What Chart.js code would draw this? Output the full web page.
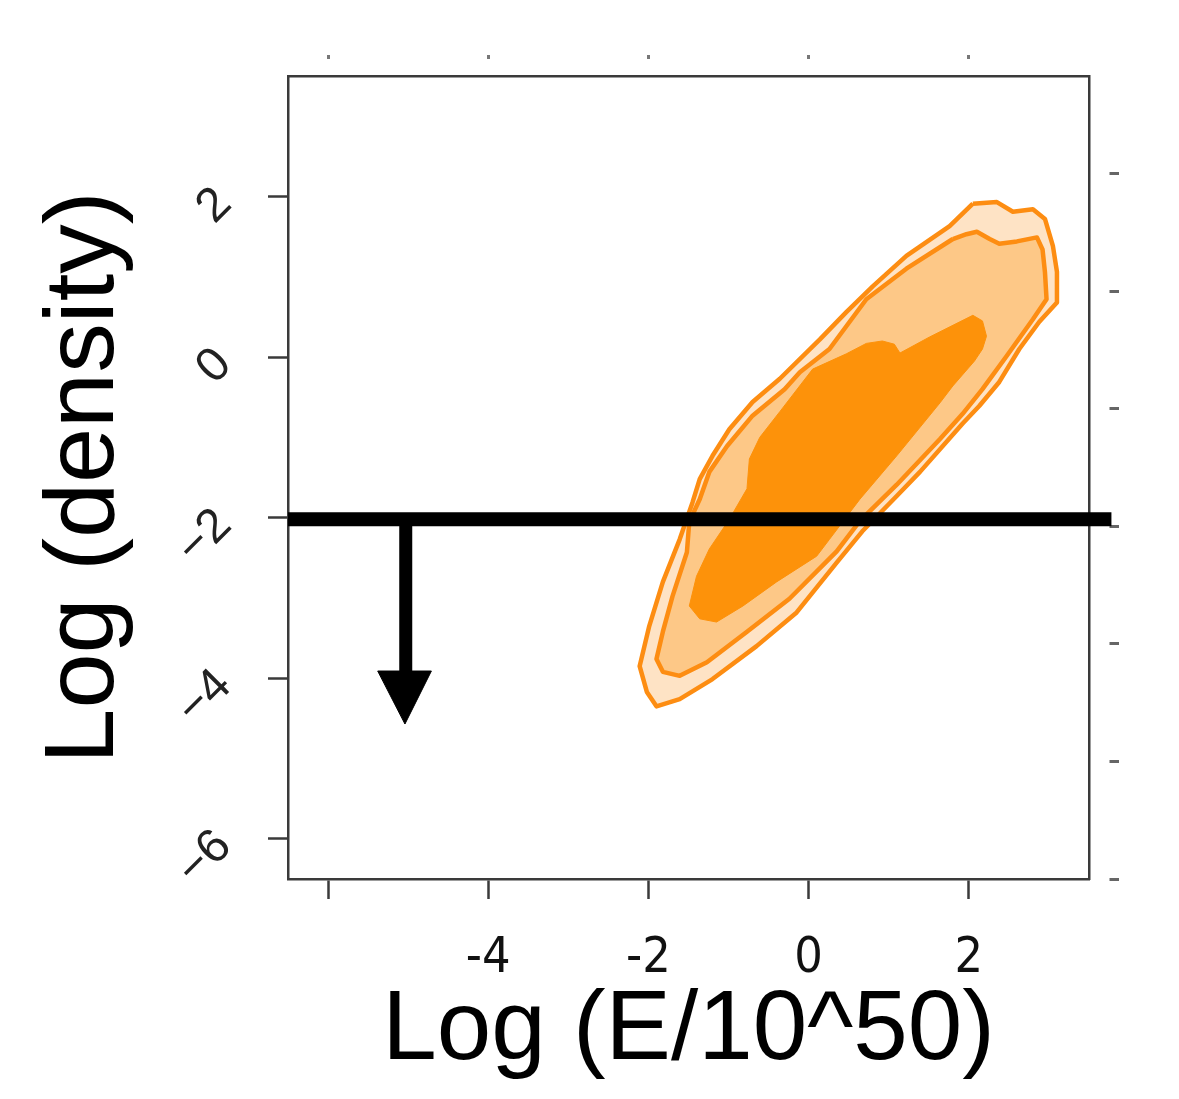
<!DOCTYPE html>
<html>
<head>
<meta charset="utf-8">
<script src="https://cdn.jsdelivr.net/npm/chart.js@4/dist/chart.umd.min.js"></script>
<style>
  html, body { margin: 0; background: #fff; }
  canvas { display: block; }
</style>
</head>
<body>
<canvas id="c" width="1179" height="1099"></canvas>
<script>
// axis ranges and ticks
const X_RANGE = [-6.5, 3.5];
const Y_RANGE = [-6.5, 3.5];
const X_TICKS = [-6, -4, -2, 0, 2];
const X_LABELS = ["", "-4", "-2", "0", "2"];
const Y_TICKS = [-6, -4, -2, 0, 2];
const Y_LABELS = ["\u22126", "\u22124", "\u22122", "0", "2"];

// density contours, [log E, log density], outermost first
const OUTER = [
  [2.05, 1.91], [2.35, 1.93], [2.55, 1.81], [2.80, 1.84], [2.95, 1.72], [3.05, 1.38],
  [3.10, 1.06], [3.10, 0.68], [2.88, 0.44], [2.63, 0.10], [2.38, -0.31], [2.13, -0.61],
  [1.92, -0.83], [1.39, -1.43], [1.10, -1.73], [0.67, -2.17], [0.35, -2.56], [-0.15, -3.18],
  [-0.65, -3.60], [-1.20, -4.01], [-1.61, -4.26], [-1.90, -4.35], [-2.02, -4.17], [-2.11, -3.85],
  [-1.99, -3.35], [-1.82, -2.80], [-1.61, -2.27], [-1.45, -1.81], [-1.36, -1.52], [-1.20, -1.23],
  [-0.99, -0.90], [-0.70, -0.56], [-0.36, -0.27], [0.14, 0.22], [0.47, 0.56], [0.80, 0.88],
  [1.22, 1.26], [1.76, 1.63],
];
const MIDDLE = [
  [1.80, 1.47], [1.97, 1.53], [2.10, 1.56], [2.26, 1.47], [2.38, 1.41], [2.60, 1.44],
  [2.85, 1.49], [2.92, 1.34], [2.95, 1.06], [2.97, 0.72], [2.80, 0.47], [2.47, 0.01],
  [2.17, -0.40], [1.92, -0.71], [1.64, -1.02], [1.10, -1.59], [0.64, -2.04], [0.35, -2.42],
  [-0.24, -3.01], [-0.77, -3.42], [-1.27, -3.80], [-1.61, -3.97], [-1.82, -3.92], [-1.90, -3.76],
  [-1.82, -3.42], [-1.70, -2.98], [-1.52, -2.43], [-1.49, -2.05], [-1.36, -1.77], [-1.24, -1.43],
  [-1.02, -1.11], [-0.70, -0.73], [-0.30, -0.40], [-0.11, -0.19], [0.26, 0.10], [0.72, 0.72],
  [1.22, 1.10],
];
const INNER = [
  [2.05, 0.52], [2.17, 0.45], [2.22, 0.26], [2.17, 0.10], [2.07, -0.05], [1.80, -0.36],
  [1.64, -0.57], [1.10, -1.23], [0.64, -1.77], [0.26, -2.27], [0.10, -2.48], [-0.40, -2.80],
  [-0.82, -3.10], [-1.15, -3.30], [-1.36, -3.26], [-1.49, -3.10], [-1.40, -2.73], [-1.24, -2.39],
  [-0.99, -2.02], [-0.77, -1.64], [-0.74, -1.27], [-0.61, -1.00], [-0.36, -0.68], [0.05, -0.15],
  [0.47, 0.04], [0.72, 0.17], [0.92, 0.20], [1.07, 0.16], [1.14, 0.05], [1.51, 0.25],
];

// density cut and the "below" arrow
const CUT_Y = -2.02;
const CUT_X = [-6.5, 3.78];
const ARROW_X = -5.03;
const ARROW_STEM_Y = [-2.02, -3.91];
const ARROW_HEAD_X = [-5.38, -4.71, -5.04];
const ARROW_HEAD_Y = [-3.91, -3.91, -4.57];

// right-hand frame ticks (leftover from the neighbouring panel)
const RIGHT_TICKS = [0, 1, 2, 3, 4, 5, 6];
const RIGHT_RANGE = [0, 6.83];

const ORANGE = "#fd8d12";
const FRAME = "#3a3a3a";

const closed = arr => arr.concat([arr[0]]).map(([x, y]) => ({ x, y }));

function polygon(points, fill, stroke, width) {
  return { data: closed(points), showLine: true, fill: "shape", backgroundColor: fill,
           borderColor: stroke, borderWidth: width, pointRadius: 0, tension: 0,
           borderJoinStyle: "round" };
}

const datasets = [
  { data: CUT_X.map(x => ({ x, y: CUT_Y })), showLine: true, borderColor: "#000",
    borderWidth: 14, pointRadius: 0, clip: false },
  { data: ARROW_STEM_Y.map(y => ({ x: ARROW_X, y })), showLine: true, borderColor: "#000",
    borderWidth: 13, pointRadius: 0 },
  polygon(ARROW_HEAD_X.map((x, i) => [x, ARROW_HEAD_Y[i]]), "#000", "#000", 1),
  polygon(INNER, "#fd920a", "#fd920a", 1),
  polygon(MIDDLE, "#fdc887", ORANGE, 4.5),
  polygon(OUTER, "#fee3c5", ORANGE, 4.5),
];

const fixed = (prop, v) => s => { s[prop] = v; };
const setTicks = values => s => { s.ticks = values.map(value => ({ value })); };
const labelOf = (ticks, labels) => v => { const i = ticks.indexOf(v); return i < 0 ? "" : labels[i]; };

Chart.defaults.font.family = "'Liberation Sans', Arial, sans-serif";

new Chart(document.getElementById("c"), {
  type: "scatter",
  data: { datasets },
  options: {
    responsive: false,
    animation: false,
    devicePixelRatio: 1,
    layout: { padding: 0 },
    plugins: { legend: { display: false }, tooltip: { enabled: false } },
    scales: {
      x: {
        type: "linear", position: "bottom", min: X_RANGE[0], max: X_RANGE[1],
        afterBuildTicks: setTicks(X_TICKS),
        afterFit: fixed("height", 220),
        ticks: { padding: 35, color: "#111",
                 font: { family: "'Liberation Sans Narrow', 'DejaVu Sans Condensed', Arial", size: 50, lineHeight: 1 },
                 callback: labelOf(X_TICKS, X_LABELS) },
        grid: { drawOnChartArea: false, tickLength: 20, tickWidth: 2.5, tickColor: FRAME },
        border: { color: FRAME, width: 2.5 },
        title: { display: true, text: "Log (E/10^50)", color: "#000",
                 font: { size: 98, lineHeight: 1 }, padding: { top: 0, bottom: 18 } },
      },
      xTop: {
        type: "linear", position: "top", min: X_RANGE[0], max: X_RANGE[1],
        afterBuildTicks: setTicks(X_TICKS),
        afterFit: fixed("height", 76),
        ticks: { display: false },
        grid: { drawOnChartArea: false, tickLength: 21, tickWidth: 3, tickColor: "#777",
                tickBorderDash: [4, 40] },
        border: { color: FRAME, width: 2.5 },
      },
      y: {
        type: "linear", position: "left", min: Y_RANGE[0], max: Y_RANGE[1],
        afterBuildTicks: setTicks(Y_TICKS),
        afterFit: fixed("width", 288),
        ticks: { padding: 44, minRotation: 45, maxRotation: 45,
                 color: "#222", font: { size: 48, lineHeight: 1 },
                 callback: labelOf(Y_TICKS, Y_LABELS) },
        grid: { drawOnChartArea: false, tickLength: 20, tickWidth: 2.5, tickColor: FRAME },
        border: { color: FRAME, width: 2.5 },
        title: { display: true, text: "Log (density)", color: "#000",
                 font: { size: 99, lineHeight: 1 }, padding: { top: 36, bottom: 0 } },
      },
      yRight: {
        type: "linear", position: "right", min: RIGHT_RANGE[0], max: RIGHT_RANGE[1],
        afterBuildTicks: setTicks(RIGHT_TICKS),
        afterFit: fixed("width", 90),
        ticks: { display: false },
        grid: { drawOnChartArea: false, tickLength: 30, tickWidth: 3, tickColor: "#666",
                tickBorderDash: [0, 19, 11] },
        border: { color: FRAME, width: 2.5 },
      },
    },
  },
});
</script>
</body>
</html>
